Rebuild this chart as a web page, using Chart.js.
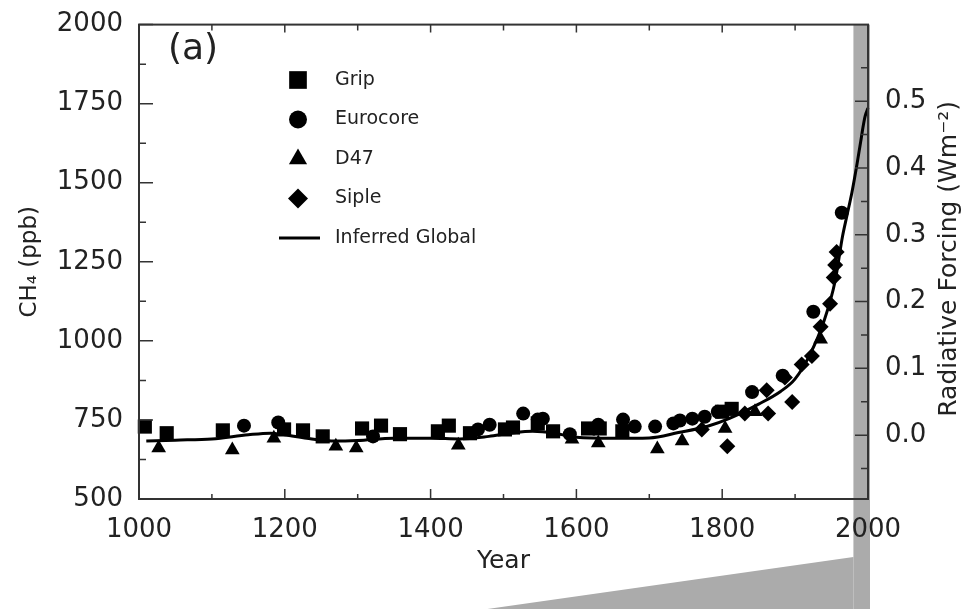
<!DOCTYPE html>
<html>
<head>
<meta charset="utf-8">
<script src="https://cdn.jsdelivr.net/npm/chart.js@4.4.0/dist/chart.umd.min.js"></script>
<style>
    html, body { margin: 0; padding: 0; background: #fff; }
</style>
</head>
<body>
<canvas id="ch4Chart" width="964" height="609"></canvas>
<script>
// ice core CH4 samples (year, ppb)
const gripYears = [1008, 1038, 1115, 1199, 1225, 1252, 1306, 1332, 1358, 1410, 1425, 1454, 1502, 1513, 1547, 1568, 1616, 1632, 1663, 1800, 1813];
const gripCH4   = [729, 708, 717, 720, 717, 698, 723, 732, 705, 714, 732, 708, 720, 726, 739, 714, 723, 723, 714, 776, 785];

const eurocoreYears = [1144, 1191, 1321, 1465, 1481, 1527, 1547, 1554, 1591, 1630, 1664, 1680, 1708, 1733, 1742, 1759, 1776, 1794, 1841, 1883, 1925, 1964];
const eurocoreCH4   = [732, 742, 698, 720, 735, 770, 751, 754, 705, 735, 751, 729, 729, 739, 748, 754, 760, 776, 838, 890, 1092, 1405];

const d47Years = [1027, 1128, 1185, 1270, 1298, 1438, 1594, 1630, 1711, 1745, 1804, 1845, 1935];
const d47CH4   = [661, 655, 692, 667, 661, 670, 689, 677, 658, 683, 723, 776, 1005];

const sipleYears = [1772, 1807, 1831, 1861, 1863, 1886, 1896, 1909, 1923, 1935, 1948, 1953, 1955, 1957];
const sipleCH4   = [720, 667, 770, 844, 770, 884, 807, 925, 952, 1045, 1117, 1200, 1240, 1281];

// smoothed global record
const globalYears = [1010, 1050, 1100, 1150, 1180, 1200, 1230, 1270, 1300, 1350, 1400, 1440, 1480, 1510, 1540, 1570, 1600, 1650, 1700, 1740, 1780, 1810, 1850, 1880, 1900, 1920, 1940, 1955, 1965, 1971, 1978, 1985, 1990, 1993, 1996, 2000];
const globalCH4   = [683, 686, 690, 703, 708, 703, 692, 683, 685, 692, 692, 690, 698, 708, 714, 708, 695, 692, 693, 710, 730, 755, 800, 840, 880, 955, 1065, 1190, 1330, 1395, 1470, 1560, 1630, 1674, 1710, 1736];

// axes
const yearMajor = [1000, 1200, 1400, 1600, 1800, 2000];
const yearMinor = [1100, 1300, 1500, 1700, 1900];
const ch4Major = [500, 750, 1000, 1250, 1500, 1750, 2000];
const ch4Minor = [625, 875, 1125, 1375, 1625, 1875];
const forcingMajor = [0.0, 0.1, 0.2, 0.3, 0.4, 0.5];
const forcingMinor = [-0.05, 0.05, 0.15, 0.25, 0.35, 0.45, 0.55];
const forcingMin = -0.0956;
const forcingMax = 0.6147;

// shaded period carried over to the lower panel
const zoomStart = 1980;
const zoomFoot = 1478;

const FONT = "'DejaVu Sans', sans-serif";
const INK = '#222';

const legendItems = [
    {label: 'Grip', style: 'rect', radius: 12.5},
    {label: 'Eurocore', style: 'circle', radius: 9},
    {label: 'D47', style: 'triangle', radius: 10.5},
    {label: 'Siple', style: 'rectRot', radius: 10},
    {label: 'Inferred Global', style: 'line'}
];

function pairs(xs, ys) {
    return xs.map((x, i) => ({x: x, y: ys[i]}));
}

function markerSet(label, xs, ys, style, radius) {
    return {
        label: label,
        data: pairs(xs, ys),
        pointStyle: style,
        pointRadius: radius,
        pointHoverRadius: radius,
        backgroundColor: '#000',
        borderColor: '#000',
        borderWidth: 0,
        showLine: false,
        clip: false
    };
}

function drawTicks(ctx, scale, values, len, edge, area) {
    ctx.beginPath();
    values.forEach(v => {
        const p = scale.getPixelForValue(v);
        if (edge === 'bottom') { ctx.moveTo(p, area.bottom); ctx.lineTo(p, area.bottom - len); }
        if (edge === 'top') { ctx.moveTo(p, area.top); ctx.lineTo(p, area.top + len); }
        if (edge === 'left') { ctx.moveTo(area.left, p); ctx.lineTo(area.left + len, p); }
        if (edge === 'right') { ctx.moveTo(area.right, p); ctx.lineTo(area.right - len, p); }
    });
    ctx.stroke();
}

const decor = {
    id: 'decor',
    beforeDraw(chart) {
        const {ctx, chartArea: a, scales: {x}} = chart;
        const x0 = x.getPixelForValue(zoomStart);
        const xf = x.getPixelForValue(zoomFoot);
        ctx.save();
        ctx.fillStyle = '#ababab';
        ctx.fillRect(x0, a.top, a.right + 2 - x0, chart.height - a.top);
        ctx.beginPath();
        ctx.moveTo(xf, chart.height);
        ctx.lineTo(x0, a.bottom + 58);
        ctx.lineTo(x0, chart.height);
        ctx.closePath();
        ctx.fill();
        ctx.restore();
    },
    afterDraw(chart) {
        const {ctx, chartArea: a, scales: {x, y, y2}} = chart;
        ctx.save();

        // frame and inward ticks
        ctx.strokeStyle = '#333';
        ctx.lineWidth = 2;
        ctx.strokeRect(a.left, a.top, a.right - a.left, a.bottom - a.top);
        ctx.lineWidth = 1.5;
        drawTicks(ctx, x, yearMajor, 10, 'bottom', a);
        drawTicks(ctx, x, yearMinor, 5, 'bottom', a);
        drawTicks(ctx, x, yearMajor, 8, 'top', a);
        drawTicks(ctx, x, yearMinor, 6, 'top', a);
        drawTicks(ctx, y, ch4Major, 14, 'left', a);
        drawTicks(ctx, y, ch4Minor, 7, 'left', a);
        drawTicks(ctx, y2, forcingMajor, 13, 'right', a);
        drawTicks(ctx, y2, forcingMinor, 7, 'right', a);

        // panel letter
        ctx.fillStyle = INK;
        ctx.font = `36px ${FONT}`;
        ctx.textAlign = 'left';
        ctx.textBaseline = 'middle';
        ctx.fillText('(a)', 168, 50);

        // legend
        ctx.font = `19px ${FONT}`;
        legendItems.forEach((item, i) => {
            const ly = 80 + i * 39.5;
            ctx.fillStyle = '#000';
            if (item.style === 'line') {
                ctx.strokeStyle = '#000';
                ctx.lineWidth = 3;
                ctx.beginPath();
                ctx.moveTo(279, ly);
                ctx.lineTo(320, ly);
                ctx.stroke();
            } else {
                Chart.helpers.drawPoint(ctx, {pointStyle: item.style, radius: item.radius, rotation: 0, borderWidth: 0}, 298, ly);
            }
            ctx.fillStyle = INK;
            ctx.fillText(item.label, 335, ly);
        });

        // right axis title, reading upward like the left one
        ctx.translate(949, (a.top + a.bottom) / 2 - 3);
        ctx.rotate(-Math.PI / 2);
        ctx.textAlign = 'center';
        ctx.font = `25px ${FONT}`;
        ctx.fillText('Radiative Forcing (Wm⁻²)', 0, 0);
        ctx.restore();
    }
};

const datasets = [
    markerSet('Grip', gripYears, gripCH4, 'rect', 10),
    markerSet('Eurocore', eurocoreYears, eurocoreCH4, 'circle', 7),
    markerSet('D47', d47Years, d47CH4, 'triangle', 8.5),
    markerSet('Siple', sipleYears, sipleCH4, 'rectRot', 8),
    {
        label: 'Inferred Global',
        data: pairs(globalYears, globalCH4),
        showLine: true,
        borderColor: '#000',
        borderWidth: 3,
        pointRadius: 0,
        tension: 0.4,
        cubicInterpolationMode: 'monotone',
        clip: false
    }
];

const tickFont = {family: FONT, size: 26};

new Chart(document.getElementById('ch4Chart').getContext('2d'), {
    type: 'scatter',
    data: {datasets: datasets},
    options: {
        responsive: false,
        animation: false,
        layout: {padding: {top: 15, left: 0, right: 0, bottom: 0}},
        plugins: {
            legend: {display: false},
            tooltip: {enabled: false}
        },
        scales: {
            x: {
                type: 'linear',
                position: 'bottom',
                min: 1000,
                max: 2000,
                afterBuildTicks: s => { s.ticks = yearMajor.map(v => ({value: v})); },
                afterFit: s => { s.height = 110; },
                grid: {display: false},
                border: {display: false},
                ticks: {color: INK, font: tickFont, padding: 8, maxRotation: 0, callback: v => String(v)},
                title: {display: true, text: 'Year', color: INK, font: {family: FONT, size: 25}, padding: {top: 0, bottom: 33}}
            },
            y: {
                type: 'linear',
                position: 'left',
                min: 500,
                max: 2000,
                afterBuildTicks: s => { s.ticks = ch4Major.map(v => ({value: v})); },
                afterFit: s => { s.width = 139; },
                grid: {display: false},
                border: {display: false},
                ticks: {color: INK, font: tickFont, padding: 8, callback: v => String(v)},
                title: {display: true, text: 'CH₄ (ppb)', color: INK, font: {family: FONT, size: 23}, padding: {top: 16, bottom: 0}}
            },
            y2: {
                type: 'linear',
                position: 'right',
                min: forcingMin,
                max: forcingMax,
                afterBuildTicks: s => { s.ticks = forcingMajor.map(v => ({value: v})); },
                afterFit: s => { s.width = 96; },
                grid: {display: false},
                border: {display: false},
                ticks: {color: INK, font: tickFont, padding: 9, callback: v => v.toFixed(1)}
            }
        }
    },
    plugins: [decor]
});
</script>
</body>
</html>
